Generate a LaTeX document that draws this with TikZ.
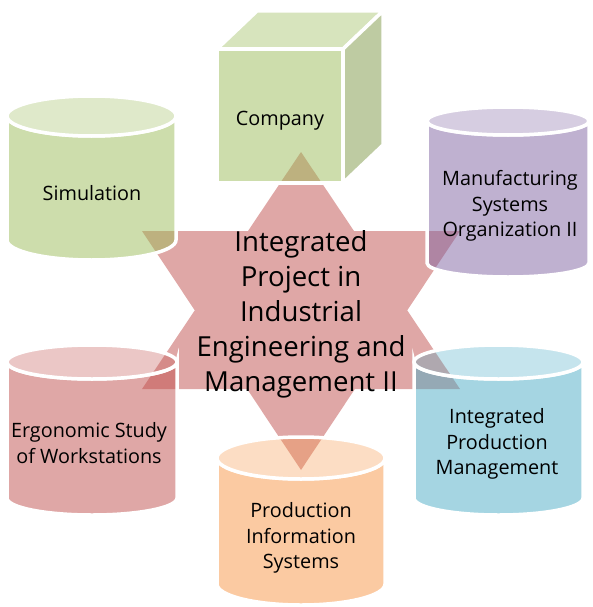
\documentclass[tikz,border=0pt]{standalone}
\usepackage{fontspec}
\setmainfont{Open Sans}
\definecolor{acred}{HTML}{C0504D}
\definecolor{acgreen}{HTML}{9BBB59}
\definecolor{acpurple}{HTML}{8064A2}
\definecolor{acblue}{HTML}{4BACC6}
\definecolor{acorange}{HTML}{F79646}
\definecolor{cubeside}{RGB}{190,203,162}
\tikzset{
  cylbody/.style={fill opacity=0.5, draw=white, draw opacity=1, line width=3.5pt},
  cyltop/.style={fill opacity=0.32, draw=white, draw opacity=1, line width=3.5pt},
  lbl/.style={font=\fontsize{19.8}{25.5}\selectfont, align=center, text=black, inner sep=0pt},
  startext/.style={font=\fontsize{27.6}{35}\selectfont, align=center, text=black, inner sep=0pt},
  starshape/.style={fill=acred, fill opacity=0.5, draw=none}
}
\newcommand\cylshape[6]{%
  \pgfmathsetmacro\cx{(#1+#2)/2}%
  \pgfmathsetmacro\rx{(#2-#1)/2}%
  \pgfmathsetmacro\ct{#3+#5}%
  \pgfmathsetmacro\cb{#4-#5}%
  \pgfmathsetmacro\kx{0.5523*\rx}%
  \pgfmathsetmacro\ky{0.5523*#5}%
  \filldraw[cylbody,fill=#6] (#1,\ct) -- (#1,\cb)
    .. controls (#1,\cb+\ky) and (\cx-\kx,#4) .. (\cx,#4)
    .. controls (\cx+\kx,#4) and (#2,\cb+\ky) .. (#2,\cb)
    -- (#2,\ct)
    .. controls (#2,\ct+\ky) and (\cx+\kx,\ct+#5) .. (\cx,\ct+#5)
    .. controls (\cx-\kx,\ct+#5) and (#1,\ct+\ky) .. (#1,\ct) -- cycle;
  \filldraw[cyltop,fill=#6] (\cx,\ct) ellipse[x radius=\rx, y radius=#5];
}
\begin{document}
\begin{tikzpicture}[x=1pt,y=-1pt]
\useasboundingbox (0,0) rectangle (592,607);
% central star (union of two triangles)
\fill[starshape] (301,152) -- (460,389) -- (142,389) -- cycle
                 (142,231) -- (460,231) -- (301,470) -- cycle;
% cube (Company)
\filldraw[fill=acgreen, fill opacity=0.5, draw=white, draw opacity=1, line width=3.5pt]
  (217,49) rectangle (343,183);
\filldraw[fill=acgreen, fill opacity=0.4, draw=white, draw opacity=1, line width=3.5pt]
  (217,49) -- (257,11) -- (383,11) -- (343,49) -- cycle;
\filldraw[fill=cubeside, draw=white, line width=3.5pt]
  (343,49) -- (383,11) -- (383,145) -- (343,183) -- cycle;
% cylinders
\cylshape{7}{176}{96}{260}{20}{acgreen}
\cylshape{427}{589}{107}{277}{14}{acpurple}
\cylshape{414}{583}{345}{515}{17}{acblue}
\cylshape{7}{177}{345}{515}{17}{acred}
\cylshape{217}{385}{437}{605}{21}{acorange}
% texts
\node[startext] (core) at (301,314) {Integrated\\Project in\\Industrial\\Engineering and\\Management II};
\node[lbl] (company) at (280,121) {Company};
\node[lbl] (sim) at (92,193) {Simulation};
\node[lbl] (mso) at (510,206) {Manufacturing\\Systems\\Organization II};
\node[lbl] (ipm) at (497,444) {Integrated\\Production\\Management};
\node[lbl] (ergo) at (89,443) {Ergonomic Study\\of Workstations};
\node[lbl] (pis) at (301,538) {Production\\Information\\Systems};
\end{tikzpicture}
\end{document}
